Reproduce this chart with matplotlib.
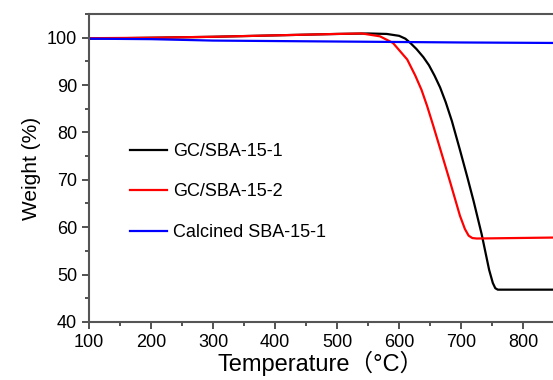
import matplotlib.pyplot as plt
from matplotlib.ticker import MultipleLocator

plt.rcParams['font.family'] = ['Liberation Sans', 'Noto Sans CJK SC', 'DejaVu Sans']

# TGA curves
t_gc1 = [100, 200, 300, 400, 500, 550, 580, 600, 610, 618, 628, 639, 648, 657, 666, 675, 685, 698, 710, 720, 733, 745, 751, 755, 759, 780, 848]
w_gc1 = [99.8, 100.0, 100.2, 100.5, 100.8, 100.9, 100.8, 100.4, 99.8, 98.9, 97.6, 95.9, 94.2, 92.0, 89.5, 86.4, 82.4, 76.3, 70.5, 65.5, 58.5, 51.0, 48.2, 47.1, 46.8, 46.8, 46.8]

t_gc2 = [100, 200, 300, 400, 500, 540, 569, 590, 613, 626, 636, 645, 655, 666, 682, 698, 706, 712, 718, 725, 848]
w_gc2 = [99.9, 100.0, 100.2, 100.5, 100.8, 100.9, 100.3, 98.9, 95.4, 92.0, 89.0, 85.6, 81.4, 76.6, 69.6, 62.4, 59.6, 58.2, 57.7, 57.6, 57.8]

t_sba = [100, 200, 300, 400, 500, 600, 700, 848]
w_sba = [99.8, 99.7, 99.4, 99.3, 99.2, 99.1, 99.0, 98.9]

fig = plt.figure(figsize=(5.53, 3.80), dpi=100)
ax = fig.add_axes([0.161, 0.153, 0.839, 0.810])

ax.plot(t_gc1, w_gc1, color='black', lw=1.6, label='GC/SBA-15-1')
ax.plot(t_gc2, w_gc2, color='red', lw=1.6, label='GC/SBA-15-2')
ax.plot(t_sba, w_sba, color='blue', lw=1.6, label='Calcined SBA-15-1')

ax.set_xlim(100, 848)
ax.set_ylim(40, 105)
ax.xaxis.set_major_locator(MultipleLocator(100))
ax.xaxis.set_minor_locator(MultipleLocator(50))
ax.yaxis.set_major_locator(MultipleLocator(10))
ax.yaxis.set_minor_locator(MultipleLocator(5))
ax.tick_params(which='both', direction='out', width=1.2, colors='#333333', labelcolor='black', labelsize=13)
ax.tick_params(which='major', length=5)
ax.tick_params(which='minor', length=3)

ax.spines['right'].set_visible(False)
for s in ['left', 'bottom', 'top']:
    ax.spines[s].set_linewidth(1.5)
    ax.spines[s].set_color('#555555')

ax.set_xlabel('Temperature（°C）', fontsize=17, labelpad=0)
ax.set_ylabel('Weight (%)', fontsize=15, labelpad=4)

ax.legend(loc='center left', bbox_to_anchor=(0.088, 0.422), frameon=False, fontsize=13,
          borderpad=0, borderaxespad=0, handlelength=2.05, handletextpad=0.33, labelspacing=1.3)

fig.savefig('out.png', dpi=100)
